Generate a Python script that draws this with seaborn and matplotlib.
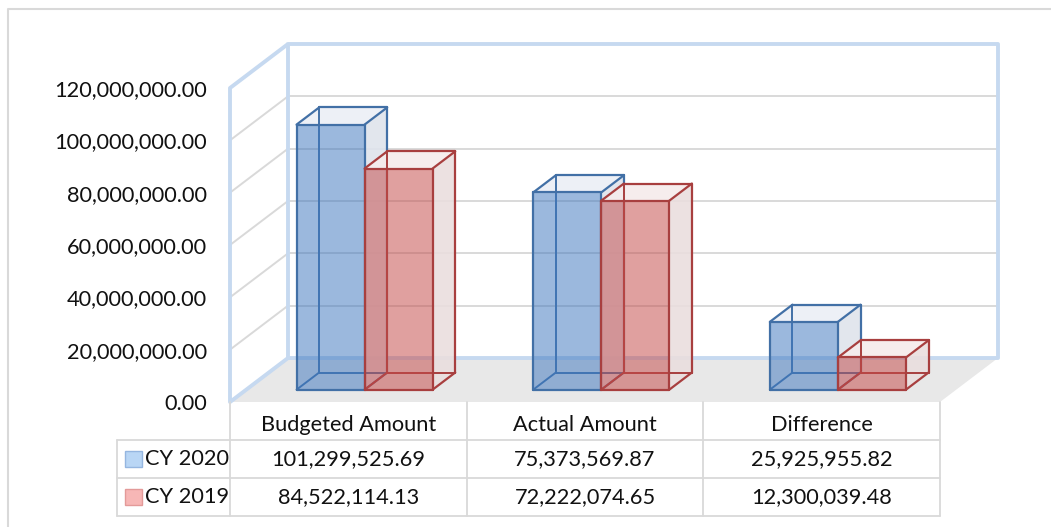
import numpy as np
import pandas as pd
import matplotlib
matplotlib.use("Agg")
import matplotlib.pyplot as plt
import matplotlib.transforms as mtransforms
from matplotlib.patches import Polygon, Rectangle
from matplotlib.lines import Line2D
import seaborn as sns

# data
categories = ["Budgeted Amount", "Actual Amount", "Difference"]
series = ["CY 2020", "CY 2019"]
cy2020 = [101299525.69, 75373569.87, 25925955.82]
cy2019 = [84522114.13, 72222074.65, 12300039.48]
y_ticks = [0, 20e6, 40e6, 60e6, 80e6, 100e6, 120e6]

df = pd.DataFrame({
    "Category": categories * 2,
    "Series": [series[0]] * 3 + [series[1]] * 3,
    "Amount": cy2020 + cy2019,
})

sns.set_style("white")
plt.rcParams["font.family"] = ["Lato", "DejaVu Sans"]
FS = 15.7

W, H = 1051, 527
fig = plt.figure(figsize=(W / 100, H / 100), dpi=100)


def fx(px):
    return px / W


def fy(py):
    return 1 - py / H


# axes = front plane of the 3d box
ax = fig.add_axes([fx(230), fy(402), fx(940) - fx(230), fy(88) - fy(402)])
ax.patch.set_alpha(0)

sns.barplot(data=df, x="Category", y="Amount", hue="Series",
            palette=["#3f78bf", "#c44a48"], saturation=1, width=0.575,
            errorbar=None, legend=False, ax=ax)
ax.set_xlim(-0.5, 2.5)
ax.set_ylim(0, 120e6)

# depth of the box in pixels, converted to data units
DEPTH_X, DEPTH_Y = 58, 44
ppx = (940 - 230) / 3
ppy = (402 - 88) / 120e6


def proj(x, v, d):
    return (x + d * DEPTH_X / ppx, v + d * DEPTH_Y / ppy)


wall_col = "#c6d9f0"
grid_col = "#d9d9d9"
top_v = y_ticks[-1]

# floor
floor = [proj(-0.5, 0, 0), proj(2.5, 0, 0), proj(2.5, 0, 1), proj(-0.5, 0, 1)]
ax.add_patch(Polygon(floor, closed=True, facecolor="#e8e8e8", edgecolor="none",
                     zorder=0.5, clip_on=False))

# gridlines on back wall and side wall
for v in y_ticks[1:-1]:
    a, b = proj(-0.5, v, 1), proj(2.5, v, 1)
    ax.plot([a[0], b[0]], [a[1], b[1]], color=grid_col, lw=1.4, zorder=1, clip_on=False)
    c = proj(-0.5, v, 0)
    ax.plot([c[0], a[0]], [c[1], a[1]], color=grid_col, lw=1.4, zorder=1, clip_on=False)

# back wall frame
back = [proj(-0.5, 0, 1), proj(-0.5, top_v, 1), proj(2.5, top_v, 1), proj(2.5, 0, 1)]
ax.add_patch(Polygon(back, closed=True, facecolor="none", edgecolor=wall_col,
                     lw=2.8, joinstyle="round", zorder=1.5, clip_on=False))
# side wall frame
side = [proj(-0.5, 0, 1), proj(-0.5, 0, 0), proj(-0.5, top_v, 0), proj(-0.5, top_v, 1)]
ax.add_patch(Polygon(side, closed=False, facecolor="none", edgecolor=wall_col,
                     lw=2.8, joinstyle="round", zorder=1.5, clip_on=False))

# 3d columns built on the seaborn bars
styles = [
    dict(edge="#4270a6", top="#eceff5", side="#dfe4ec"),
    dict(edge="#a83f3f", top="#f5ecec", side="#eadede"),
]
front_d, back_d = 0.28, 0.67

for h_i, container in enumerate(ax.containers):
    st = styles[h_i]
    z = 3 + 2 * h_i
    for bar in container:
        x0 = bar.get_x()
        x1 = x0 + bar.get_width()
        h = bar.get_height()

        def F(x, v):
            return proj(x, v, front_d)

        def B(x, v):
            return proj(x, v, back_d)

        # top and right faces
        ax.add_patch(Polygon([F(x0, h), F(x1, h), B(x1, h), B(x0, h)], closed=True,
                             facecolor=st["top"], edgecolor="none", alpha=0.9, zorder=z))
        ax.add_patch(Polygon([F(x1, 0), F(x1, h), B(x1, h), B(x1, 0)], closed=True,
                             facecolor=st["side"], edgecolor="none", alpha=0.9, zorder=z))
        # hidden edges
        for p, q in [(B(x0, 0), B(x1, 0)), (B(x0, 0), B(x0, h)), (B(x0, 0), F(x0, 0))]:
            ax.plot([p[0], q[0]], [p[1], q[1]], color=st["edge"], lw=1.4,
                    zorder=z + 0.2, solid_capstyle="round")
        # front face = the seaborn bar, shifted into depth
        fx0, fy0 = F(x0, 0)
        bar.set_x(fx0)
        bar.set_y(fy0)
        bar.set_alpha(0.52)
        bar.set_edgecolor("none")
        bar.set_zorder(z + 0.5)
        # visible edges
        edges = [
            (F(x0, 0), F(x1, 0)), (F(x1, 0), F(x1, h)), (F(x1, h), F(x0, h)), (F(x0, h), F(x0, 0)),
            (F(x0, h), B(x0, h)), (B(x0, h), B(x1, h)), (F(x1, h), B(x1, h)),
            (B(x1, h), B(x1, 0)), (F(x1, 0), B(x1, 0)),
        ]
        for p, q in edges:
            ax.plot([p[0], q[0]], [p[1], q[1]], color=st["edge"], lw=1.6,
                    zorder=z + 0.8, solid_capstyle="round")

# axes styling
ax.set_yticks(y_ticks)
ax.set_yticklabels([f"{v:,.2f}" for v in y_ticks], fontsize=FS, color="#111111")
ax.tick_params(axis="y", length=0, pad=16.5)
ax.set_xticks([])
ax.set_xlabel("")
ax.set_ylabel("")
sns.despine(ax=ax, left=True, bottom=True)

# data table
trans = mtransforms.blended_transform_factory(ax.transData, fig.transFigure)
line_kw = dict(color=grid_col, lw=1.3)
for xb in [-0.5, 0.5, 1.5, 2.5]:
    fig.add_artist(Line2D([xb, xb], [fy(402), fy(516)], transform=trans, **line_kw))
fig.add_artist(Line2D([fx(117), fx(117)], [fy(440), fy(516)], transform=fig.transFigure, **line_kw))
for yl in [440, 478, 516]:
    fig.add_artist(Line2D([fx(117), fx(940)], [fy(yl), fy(yl)], transform=fig.transFigure, **line_kw))

for i, cat in enumerate(categories):
    ax.text(i, fy(425), cat, transform=trans, ha="center", va="center", fontsize=FS, color="#111111")

key_cols = [("#b9d6f5", "#95b6e0"), ("#f7b7b6", "#e39a99")]
for r, (name, vals) in enumerate(zip(series, [cy2020, cy2019])):
    yc = 459 + 38 * r
    fig.add_artist(Rectangle((fx(125), fy(yc + 8)), fx(17), 16 / H, transform=fig.transFigure,
                             facecolor=key_cols[r][0], edgecolor=key_cols[r][1], lw=1))
    fig.text(fx(145), fy(yc), name, ha="left", va="center", fontsize=FS, color="#111111")
    for i, v in enumerate(vals):
        ax.text(i, fy(yc), f"{v:,.2f}", transform=trans, ha="center", va="center",
                fontsize=FS, color="#111111")

# chart area border
fig.add_artist(Line2D([fx(7.5), fx(7.5), fx(1051)], [fy(527), fy(8.5), fy(8.5)],
                      transform=fig.transFigure, color=grid_col, lw=1.5))

fig.savefig("out.png", dpi=100)
